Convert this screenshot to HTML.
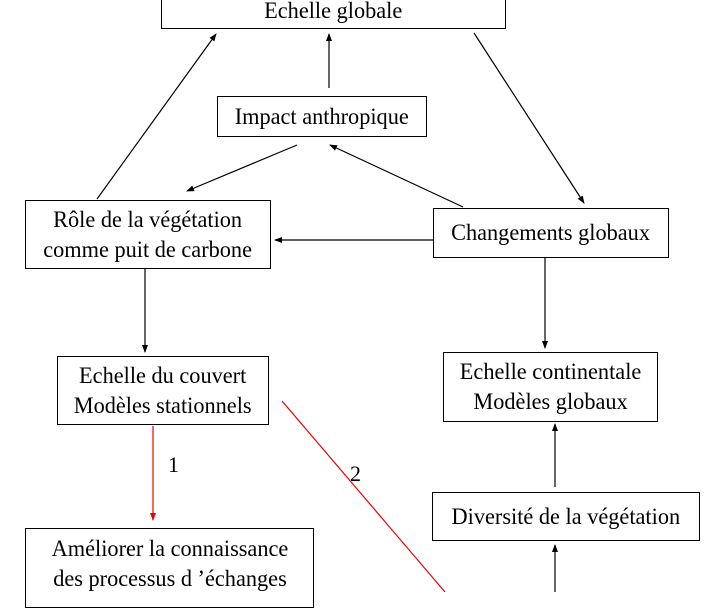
<!DOCTYPE html>
<html><head><meta charset="utf-8"><style>
body{margin:0;width:720px;height:592px;background:#fff;overflow:hidden;position:relative;font-family:"Liberation Serif",serif;font-size:23px;color:#000}
.b{position:absolute;border:1.5px solid #000;box-sizing:border-box;background:#fff;text-align:center;line-height:30px;display:flex;align-items:center;justify-content:center;flex-direction:column;white-space:nowrap}
.b span{display:block;transform:scaleX(0.97)}
.t{position:absolute;font-size:22px}
svg{position:absolute;left:0;top:0;z-index:2}
</style></head><body>
<div class="b" style="left:161px;top:-12px;width:345px;height:41px;justify-content:flex-end;padding-bottom:2px"><span>Echelle globale</span></div>
<div class="b" style="left:217px;top:96px;width:210px;height:41px"><span>Impact anthropique</span></div>
<div class="b" style="left:25px;top:200px;width:246px;height:69px"><span>Rôle de la végétation<br>comme puit de carbone</span></div>
<div class="b" style="left:433px;top:208px;width:236px;height:50px"><span>Changements globaux</span></div>
<div class="b" style="left:57px;top:356px;width:212px;height:69px"><span>Echelle du couvert<br>Modèles stationnels</span></div>
<div class="b" style="left:443px;top:352px;width:215px;height:70px"><span>Echelle continentale<br>Modèles globaux</span></div>
<div class="b" style="left:432px;top:492px;width:268px;height:49px"><span>Diversité de la végétation</span></div>
<div class="b" style="left:25px;top:528px;width:289px;height:80px;justify-content:flex-start;padding-top:5px"><span>Améliorer la connaissance<br>des processus d ’échanges</span></div>
<div class="t" style="left:168px;top:452px">1</div>
<div class="t" style="left:350px;top:461px">2</div>
<svg width="720" height="592">
<defs>
<marker id="a" markerWidth="8" markerHeight="8" refX="7" refY="4" orient="auto" markerUnits="userSpaceOnUse"><path d="M0,1 L8,4 L0,7z" fill="#000"/></marker>
<marker id="r" markerWidth="8" markerHeight="8" refX="7" refY="4" orient="auto" markerUnits="userSpaceOnUse"><path d="M0,1 L8,4 L0,7z" fill="#e00"/></marker>
</defs>
<g stroke="#000" stroke-width="1.2">
<line x1="97" y1="199" x2="216" y2="34" marker-end="url(#a)"/>
<line x1="329" y1="88" x2="329" y2="34" marker-end="url(#a)"/>
<line x1="474" y1="33" x2="584" y2="203" marker-end="url(#a)"/>
<line x1="297" y1="145" x2="187" y2="191" marker-end="url(#a)"/>
<line x1="463" y1="207" x2="330" y2="145" marker-end="url(#a)"/>
<line x1="433" y1="240" x2="275" y2="240" marker-end="url(#a)"/>
<line x1="145" y1="269" x2="145" y2="352" marker-end="url(#a)"/>
<line x1="545" y1="258" x2="545" y2="348" marker-end="url(#a)"/>
<line x1="555" y1="487" x2="555" y2="424" marker-end="url(#a)"/>
<line x1="555" y1="592" x2="555" y2="545" marker-end="url(#a)"/>
</g>
<g stroke="#e00" stroke-width="1.2">
<line x1="153" y1="426" x2="153" y2="520" marker-end="url(#r)"/>
<line x1="282" y1="401" x2="445" y2="592"/>
</g>
</svg>
</body></html>
